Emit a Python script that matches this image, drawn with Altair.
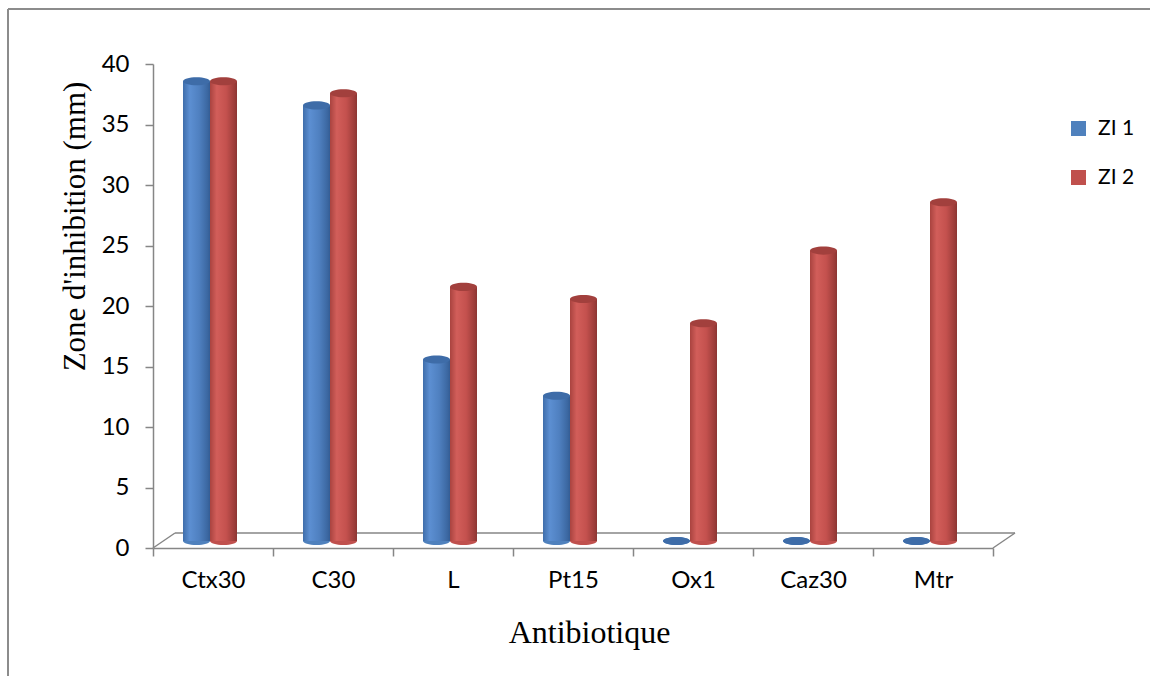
import altair as alt
import pandas as pd

# Inhibition zone diameters (mm) per antibiotic disc, two readings
antibiotiques = ["Ctx30", "C30", "L", "Pt15", "Ox1", "Caz30", "Mtr"]
zi1 = [38, 36, 15, 12, 0, 0, 0]
zi2 = [38, 37, 21, 20, 18, 24, 28]
series = ["ZI 1", "ZI 2"]
y_ticks = [0, 5, 10, 15, 20, 25, 30, 35, 40]

rows = []
for name, a, b in zip(antibiotiques, zi1, zi2):
    rows.append({"antibiotique": name, "serie": "ZI 1", "valeur": a})
    rows.append({"antibiotique": name, "serie": "ZI 2", "valeur": b})
df = pd.DataFrame(rows)

W, H = 840, 484
AXIS_GREY = "#868686"
SANS = "Lato"
SERIF = "Liberation Serif"
DEPTH = -7  # lift of the cylinders onto the 3-D floor

x_enc = alt.X(
    "antibiotique:N",
    sort=antibiotiques,
    scale=alt.Scale(paddingInner=0, paddingOuter=0),
    axis=alt.Axis(
        title="Antibiotique",
        titleFont=SERIF,
        titleFontSize=32,
        titleFontWeight="normal",
        titleColor="#000",
        titleX=436,
        titleY=84,
        titleAlign="center",
        titleBaseline="middle",
        labelFont=SANS,
        labelFontSize=24,
        labelColor="#000",
        labelAngle=0,
        labelPadding=12,
        tickBand="extent",
        tickSize=8,
        tickColor=AXIS_GREY,
        domainColor=AXIS_GREY,
        domainWidth=1.5,
        tickWidth=1.5,
    ),
)
# two adjacent 27 px cylinders inside each 120 px category
xoff_enc = alt.XOffset(
    "serie:N",
    scale=alt.Scale(domain=series, range=[30, 84], paddingInner=0, paddingOuter=0),
)
y_enc = alt.Y(
    "valeur:Q",
    scale=alt.Scale(domain=[0, 40], nice=False),
    axis=alt.Axis(
        values=y_ticks,
        title="Zone d'inhibition (mm)",
        titleFont=SERIF,
        titleFontSize=31,
        titleFontWeight="normal",
        titleColor="#000",
        titleX=-78,
        titleY=162,
        titleAlign="center",
        titleBaseline="middle",
        labelFont=SANS,
        labelFontSize=24,
        labelColor="#000",
        labelPadding=16,
        tickSize=8,
        tickColor=AXIS_GREY,
        domainColor=AXIS_GREY,
        domainWidth=1.5,
        tickWidth=1.5,
        grid=False,
    ),
)

ellipse = "M -1 0 A 1 0.3 0 1 0 1 0 A 1 0.3 0 1 0 -1 0 Z"
cap_size = 27 * 27


def grad(stops):
    return alt.LinearGradient(
        gradient="linear",
        stops=[alt.GradientStop(offset=o, color=c) for o, c in stops],
        x1=0, x2=1, y1=0, y2=0,
    )


blue_grad = grad([(0, "#3f6eab"), (0.25, "#5c8fd2"), (0.6, "#4f80c0"),
                  (0.9, "#3c68a2"), (1, "#345d95")])
red_grad = grad([(0, "#a9433f"), (0.25, "#d25e5a"), (0.6, "#c4514e"),
                 (0.9, "#9d3d3a"), (1, "#8c3633")])
top_colors = {"ZI 1": "#3e6ca8", "ZI 2": "#a2403d"}

base = alt.Chart(df)

# rounded bottoms of the cylinders (also carries the legend)
bottoms = base.mark_point(
    shape=ellipse, size=cap_size, filled=True, opacity=1, yOffset=DEPTH
).encode(
    x=x_enc,
    xOffset=xoff_enc,
    y=alt.Y("zero:Q", scale=alt.Scale(domain=[0, 40], nice=False)),
    color=alt.Color(
        "serie:N",
        scale=alt.Scale(domain=series, range=["#4F81BD", "#C0504D"]),
        legend=alt.Legend(
            title=None,
            orient="none",
            legendX=915,
            legendY=54,
            padding=0,
            symbolType="square",
            symbolSize=225,
            symbolStrokeWidth=0,
            symbolOpacity=1,
            labelFont=SANS,
            labelFontSize=21,
            labelColor="#000",
            labelOffset=9,
            rowPadding=27,
        ),
    ),
).transform_calculate(zero="0")

layers = [bottoms]
for s, g in zip(series, [blue_grad, red_grad]):
    body = base.transform_filter(alt.datum.serie == s).mark_bar(
        color=g, yOffset=DEPTH
    ).encode(x=x_enc, xOffset=xoff_enc, y=y_enc)
    top = base.transform_filter(alt.datum.serie == s).mark_point(
        shape=ellipse, size=cap_size, filled=True, opacity=1,
        color=top_colors[s], yOffset=DEPTH
    ).encode(x=x_enc, xOffset=xoff_enc, y=y_enc)
    layers += [body, top]


def line(x, x2, y, y2, color=AXIS_GREY, width=1.5):
    return alt.Chart(pd.DataFrame({"k": [0]})).mark_rule(
        color=color, strokeWidth=width
    ).encode(
        x=alt.value(x), x2=alt.value(x2), y=alt.value(y), y2=alt.value(y2)
    )


# 3-D floor behind the bars
floor = [
    line(22, W + 22, H - 15, H - 15),
    line(0, 22, H, H - 15),
    line(W, W + 22, H, H - 15),
]
# outer frame
frame = [
    line(-145, 1000, -55, -55, color="#8c8c8c", width=2),
    line(-145, -145, -55, 620, color="#8c8c8c", width=2),
]

chart = alt.layer(*frame, *floor, *layers).properties(
    width=W,
    height=H,
    padding={"left": 153, "top": 64, "right": 157, "bottom": 128},
    autosize=alt.AutoSizeParams(type="none"),
    background="white",
).configure_view(stroke=None)

chart.save("out.html", embed_options={"renderer": "svg", "actions": False})
